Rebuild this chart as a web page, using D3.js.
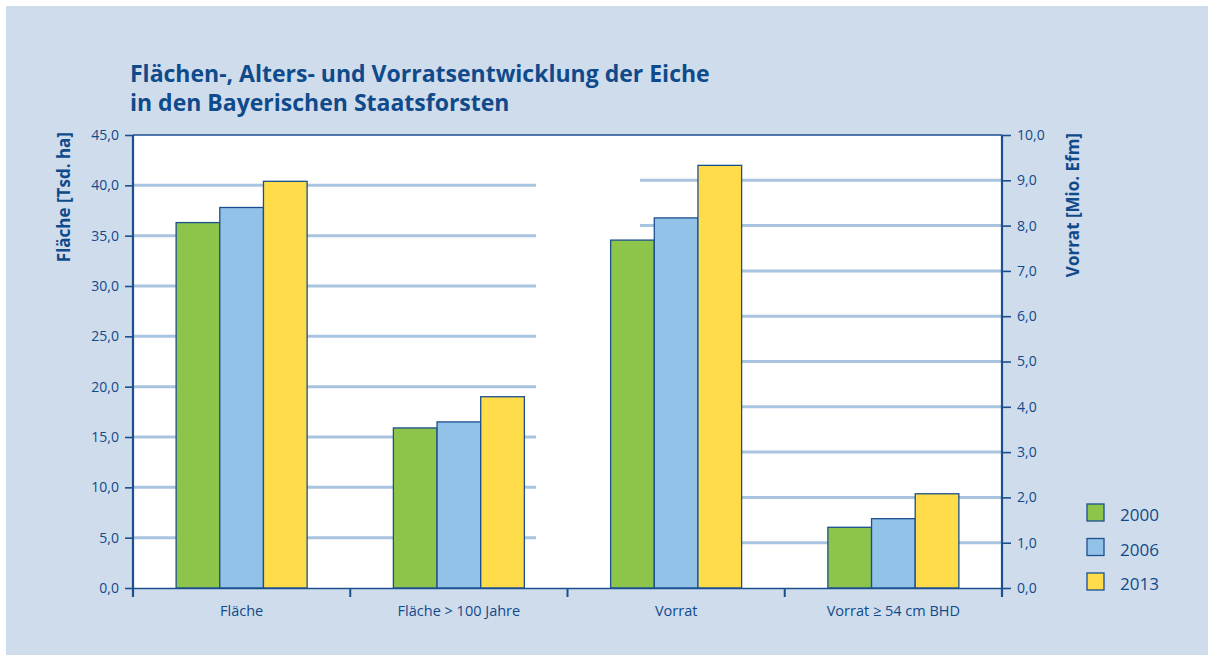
<!DOCTYPE html>
<html>
<head>
<meta charset="utf-8">
<script src="https://cdn.jsdelivr.net/npm/d3@7"></script>
<style>
  body { margin: 0; background: #fff; }
  svg text { font-family: "Open Sans", "Noto Sans", sans-serif; fill: #0f4a8a; }
</style>
</head>
<body>
<svg id="chart" width="1214" height="660"></svg>
<script>
const categories = ["Fläche", "Fläche > 100 Jahre", "Vorrat", "Vorrat ≥ 54 cm BHD"];
const years = ["2000", "2006", "2013"];
// first two categories on left axis (Tsd. ha), last two on right axis (Mio. Efm)
const values2000 = [36.3, 15.9, 7.68, 1.34];
const values2006 = [37.8, 16.5, 8.17, 1.53];
const values2013 = [40.4, 19.0, 9.33, 2.08];
const leftTicks = [0, 5, 10, 15, 20, 25, 30, 35, 40, 45];
const rightTicks = [0, 1, 2, 3, 4, 5, 6, 7, 8, 9, 10];
const colors = ["#8cc54a", "#93c2e8", "#ffdc4a"];

const dark = "#1b4f8f";
const grid = "#a9c4e0";
const svg = d3.select("#chart");

// background panel
svg.append("rect").attr("x", 6).attr("y", 6).attr("width", 1202).attr("height", 649)
    .attr("fill", "#cfdcec");

const pl = 133, pr = 1002, pt = 135, pb = 588;

svg.append("rect").attr("x", pl).attr("y", pt)
    .attr("width", pr - pl).attr("height", pb - pt).attr("fill", "#fff");

const x = d3.scaleBand().domain(categories).range([pl, pr]);
const inner = d3.scaleBand().domain(years).range([0, 131]);
const yL = d3.scaleLinear().domain([0, 45]).range([pb, pt]);
const yR = d3.scaleLinear().domain([0, 10]).range([pb, pt]);

// gridlines: left half uses left scale, right half uses right scale
svg.append("g").selectAll("line").data(leftTicks.slice(1, -1)).join("line")
    .attr("x1", pl).attr("x2", 536)
    .attr("y1", d => yL(d)).attr("y2", d => yL(d))
    .attr("stroke", grid).attr("stroke-width", 3);
svg.append("g").selectAll("line").data(rightTicks.slice(1, -1)).join("line")
    .attr("x1", 640).attr("x2", pr)
    .attr("y1", d => yR(d)).attr("y2", d => yR(d))
    .attr("stroke", grid).attr("stroke-width", 3);

// bars
const rows = [values2000, values2006, values2013];
categories.forEach((c, i) => {
    const y = i < 2 ? yL : yR;
    const g = svg.append("g")
        .attr("transform", `translate(${x(c) + (x.bandwidth() - 131) / 2},0)`);
    years.forEach((yr, j) => {
        const v = rows[j][i];
        g.append("rect")
            .attr("x", inner(yr)).attr("y", y(v))
            .attr("width", inner.bandwidth()).attr("height", pb - y(v))
            .attr("fill", colors[j]).attr("stroke", dark).attr("stroke-width", 1.3);
    });
});

// frame top
svg.append("line").attr("x1", pl).attr("x2", pr).attr("y1", pt).attr("y2", pt)
    .attr("stroke", dark).attr("stroke-width", 1.5);

const fmt = d => d3.format(".1f")(d).replace(".", ",");

const axL = svg.append("g").attr("transform", `translate(${pl},0)`)
    .call(d3.axisLeft(yL).tickValues(leftTicks).tickFormat(fmt).tickSize(8).tickPadding(6));
const axR = svg.append("g").attr("transform", `translate(${pr},0)`)
    .call(d3.axisRight(yR).tickValues(rightTicks).tickFormat(fmt).tickSize(9).tickPadding(6));
[axL, axR].forEach(a => {
    a.select(".domain").attr("stroke", dark).attr("stroke-width", 2.2)
        .attr("d", `M0,${pt}V${pb + 9}`);
    a.selectAll(".tick line").attr("stroke", dark).attr("stroke-width", 1.6);
    a.selectAll(".tick text").attr("font-size", 14).style("fill", "#0f4a8a");
});

// bottom axis
const axB = svg.append("g").attr("transform", `translate(0,${pb})`)
    .call(d3.axisBottom(x).tickSize(0).tickPadding(18));
axB.select(".domain").attr("stroke", dark).attr("stroke-width", 1.5);
axB.selectAll(".tick text").attr("font-size", 14.5).style("fill", "#0f4a8a");
svg.append("g").selectAll("line").data(d3.range(5)).join("line")
    .attr("x1", d => pl + d * x.step()).attr("x2", d => pl + d * x.step())
    .attr("y1", pb).attr("y2", pb + 9)
    .attr("stroke", dark).attr("stroke-width", 2);

// axis titles
svg.append("text").attr("transform", "translate(70,132) rotate(-90)")
    .attr("text-anchor", "end").attr("font-size", 17).attr("font-weight", "bold")
    .text("Fläche [Tsd. ha]");
svg.append("text").attr("transform", "translate(1079,133) rotate(-90)")
    .attr("text-anchor", "end").attr("font-size", 17).attr("font-weight", "bold")
    .text("Vorrat [Mio. Efm]");

// title
svg.append("text").attr("x", 130).attr("y", 82).attr("font-size", 23).attr("font-weight", "bold")
    .text("Flächen-, Alters- und Vorratsentwicklung der Eiche");
svg.append("text").attr("x", 130).attr("y", 111).attr("font-size", 23).attr("font-weight", "bold")
    .text("in den Bayerischen Staatsforsten");

// legend
const lg = svg.append("g").selectAll("g").data(years).join("g")
    .attr("transform", (d, i) => `translate(1087,${504 + i * 34.5})`);
lg.append("rect").attr("width", 17).attr("height", 17)
    .attr("fill", (d, i) => colors[i]).attr("stroke", dark).attr("stroke-width", 1.3);
lg.append("text").attr("x", 33).attr("y", 17).attr("font-size", 17).text(d => d);
</script>
</body>
</html>
